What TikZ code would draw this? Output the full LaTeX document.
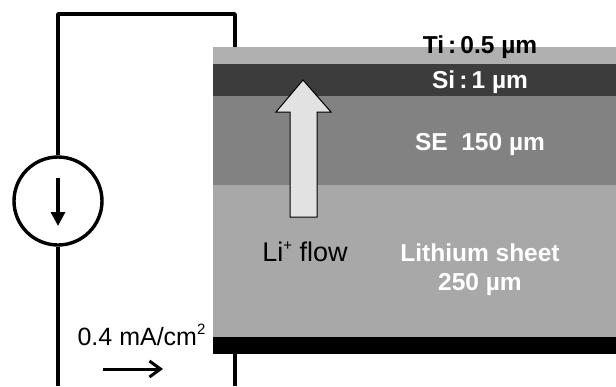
\documentclass[tikz,border=0pt]{standalone}
\usepackage{fontspec}
\setmainfont{Liberation Sans}
\usetikzlibrary{arrows.meta}
\definecolor{ti}{HTML}{B0B0B0}
\definecolor{si}{HTML}{3C3C3C}
\definecolor{se}{HTML}{828282}
\definecolor{li}{HTML}{A8A8A8}
\definecolor{flowfill}{HTML}{E2E2E2}
\newcommand{\upsmall}[1]{\raisebox{0.42em}{\fontsize{15}{15}\selectfont #1}}
\tikzset{
  layer/.style={draw=none,inner sep=0pt,outer sep=0pt,minimum width=403pt,anchor=north west},
  wire/.style={line width=3.4pt,line join=round},
  boldwhite/.style={text=white,font=\fontsize{24.5}{29}\selectfont\bfseries,inner sep=0pt,align=center},
  boldblack/.style={text=black,font=\fontsize{24.5}{29}\selectfont\bfseries,inner sep=0pt},
  plain/.style={text=black,font=\fontsize{25}{29}\selectfont,inner sep=0pt}
}
\begin{document}
\begin{tikzpicture}[x=1pt,y=-1pt]
\useasboundingbox (0,0) rectangle (616,386);
\node[layer,fill=ti,minimum height=17pt] (ti) at (213,47) {};
\node[layer,fill=si,minimum height=32pt] (si) at (213,64) {};
\node[layer,fill=se,minimum height=89pt] (se) at (213,96) {};
\node[layer,fill=li,minimum height=152pt] (lis) at (213,185) {};
\node[layer,fill=black,minimum height=17pt] (cc) at (213,337) {};
\node[circle,draw=black,line width=3.4pt,fill=white,minimum size=88pt,inner sep=0pt] (src) at (58,201) {};
\coordinate (tl) at (58,14);
\coordinate (tr) at (235,14);
\coordinate (te) at (235,47);
\coordinate (bl) at (58,386);
\coordinate (br) at (235,386);
\coordinate (be) at (235,354);
\draw[wire] (src.north) -- (tl) -- (tr) -- (te);
\draw[wire] (src.south) -- (bl);
\draw[wire] (be) -- (br);
\coordinate (ia) at (58,178);
\coordinate (ib) at (58,226);
\draw[line width=3.2pt,-{Triangle[length=14pt,width=14pt]}] (ia) -- (ib);
\fill[flowfill,draw=black,line width=1pt,line join=miter]
  (303,80) -- (331,112) -- (317,112) -- (317,217) -- (290,217) -- (290,112) -- (276,112) -- cycle;
\coordinate (ca) at (103,369);
\coordinate (cb) at (163,369);
\draw[line width=3pt,-{Straight Barb[length=11pt,width=16pt,line width=3pt]}] (ca) -- (cb);
\node[boldblack] (tit) at (480,47) {Ti\,:\,0.5 µm};
\node[boldwhite] (sit) at (480,82) {Si\,:\,1 µm};
\node[boldwhite] (set) at (480,144) {SE\ \ 150 µm};
\node[boldwhite] (lit) at (480,270) {Lithium sheet\\250 µm};
\node[plain,font=\fontsize{27}{32}\selectfont] (flt) at (305,252) {Li\upsmall{+} flow};
\node[plain] (cur) at (141.5,335) {0.4 mA/cm\upsmall{2}};
\end{tikzpicture}
\end{document}
